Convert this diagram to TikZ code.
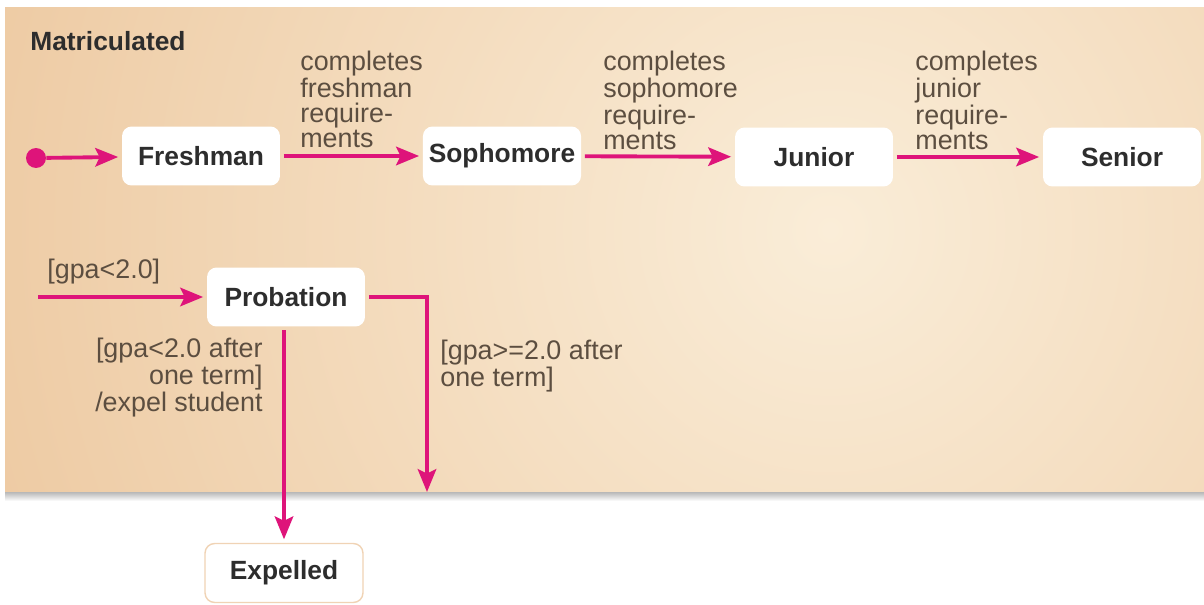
\documentclass[tikz,border=0pt]{standalone}
\usepackage{fontspec}
\setmainfont{Liberation Sans}
\usetikzlibrary{
	arrows.meta, positioning, calc
}
\definecolor{statepink}     {RGB}{222,  20, 122}
\definecolor{bgtan}         {RGB}{230, 182, 132}
\definecolor{bglight}       {RGB}{250, 237, 216}
\definecolor{labelgray}     {RGB}{ 92,  78,  64}
\definecolor{stategray}     {RGB}{ 45,  45,  45}

\begin{document}
\begin{tikzpicture}[x=0.02cm, y=-0.02cm,
		state/.style={fill=white, rounded corners=5.5pt, minimum width=3.16cm, minimum height=1.18cm,
			font=\fontsize{15}{18}\selectfont\bfseries, text=stategray},
		trans/.style={draw=statepink, line width=2.2pt, shorten <=2pt, shorten >=2pt,
			-{Stealth[length=13pt, width=10.5pt, inset=2.5pt]}},
		lbl/.style={text=labelgray, align=left, inner sep=0pt, font=\fontsize{15.3}{14.2}\selectfont}]
				\useasboundingbox (0,0) rectangle (1204,605);
				\fill[white] (0,0) rectangle (1204,605);
				% matriculated region
				\begin{scope}
					\clip (5,7) rectangle (1204,492);
					\shade[inner color=bglight, outer color=bgtan] (830,230) circle (28cm);
				\end{scope}
				\shade[top color=black!28, bottom color=white] (5,492) rectangle (1204,501);
				\node[anchor=west, inner sep=0pt, text=stategray, font=\fontsize{15}{18}\selectfont\bfseries] (matric) at (30,41) {Matriculated};

				% states
				\node[circle, fill=statepink, inner sep=0pt, minimum size=0.4cm] (init) at (36,158) {};
				\node[state] (fresh) at (201,156) {Freshman};
				\node[state] (soph) at (502,156) {Sophomore};
				\node[state] (junior) at (814,157) {Junior};
				\node[state] (senior) at (1122,157) {Senior};
				\node[state] (prob) at (286,297) {Probation};
				\node[state, draw=bgtan!60, line width=0.8pt] (expel) at (284,573) {Expelled};
				\coordinate (probin) at (38,297);
				\coordinate (stay) at (427,492);

				% transitions
				\draw[trans, shorten <=0pt] (init) -- (fresh);
				\draw[trans] (fresh) -- (soph);
				\draw[trans] (soph) -- (junior);
				\draw[trans] (junior) -- (senior);
				\draw[trans, shorten <=0pt] (probin) -- (probin -| prob.west);
				\draw[trans, shorten >=0pt] (prob.east) -| (stay);
				\draw[trans] (prob.south -| expel.north) -- (expel.north);

				% labels
				\node[lbl, anchor=north west] (lfresh) at (300,51) {completes\\freshman\\require-\\ments};
				\node[lbl, anchor=north west] (lsoph) at (603,51) {completes\\sophomore\\require-\\ments};
				\node[lbl, anchor=north west] (ljunior) at (915,51) {completes\\junior\\require-\\ments};
				\node[lbl, anchor=west] (lprob) at (47,272) {[gpa<2.0]};
				\node[lbl, anchor=north east, align=right] (lexpel) at (263,338) {[gpa<2.0 after\\one term]\\/expel student};
				\node[lbl, anchor=north west] (lstay) at (440,340) {[gpa>=2.0 after\\one term]};
			\end{tikzpicture}
\end{document}
